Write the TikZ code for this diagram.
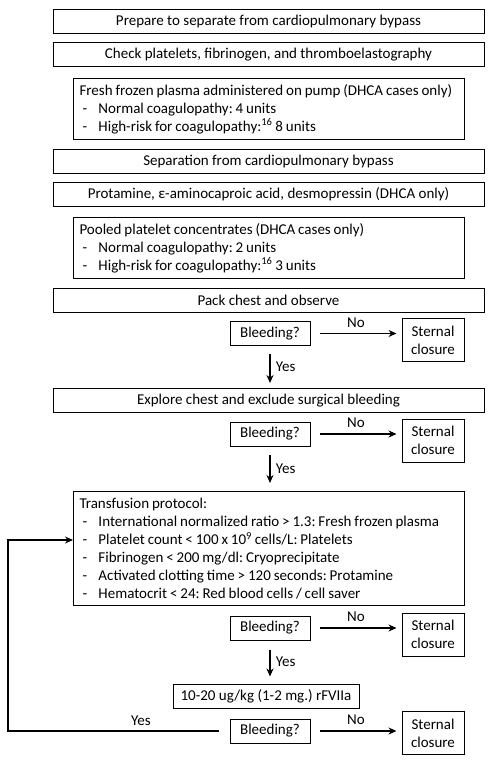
\documentclass[tikz,border=0pt]{standalone}
\usepackage{fontspec}
\setmainfont{Carlito}
\usetikzlibrary{arrows.meta}
\frenchspacing
\newcommand{\dashitem}[1]{\hspace*{3pt}\makebox[16pt][l]{-}#1}
\newcommand{\tightspace}{\spaceskip=2.9pt\relax}
\begin{document}
\begin{tikzpicture}[x=1pt, y=-1pt,
        font=\fontsize{15}{18}\selectfont,
        widebox/.style={draw, line width=1pt, minimum width=431pt, minimum height=24pt, inner sep=0pt},
        listbox/.style={draw, line width=1pt, anchor=north west, text width=379pt, inner xsep=6pt, inner ysep=0pt, align=left,
            execute at begin node=\tightspace},
        askbox/.style={draw, line width=1pt, minimum width=80pt, minimum height=24pt, inner sep=0pt},
        closebox/.style={draw, line width=1pt, minimum width=62pt, minimum height=43pt, inner sep=0pt, align=center},
        arr/.style={line width=1.2pt, -{Stealth[length=8pt, width=7pt]}}]
            \useasboundingbox (0,0) rectangle (494,764);
            \node[widebox] (prep) at (268.5, 21) {Prepare to separate from cardiopulmonary bypass};
            \node[widebox] (check) at (268.5, 54.5) {Check platelets, fibrinogen, and thromboelastography};
            \node[listbox, minimum height=61pt] (ffp) at (73, 78) {Fresh frozen plasma administered on pump (DHCA cases only)\\
                \dashitem{Normal coagulopathy: 4 units}\\
                \dashitem{High-risk for coagulopathy:\textsuperscript{16} 8 units}};
            \node[widebox] (sep) at (268.5, 161.5) {Separation from cardiopulmonary bypass};
            \node[widebox] (prot) at (268.5, 194.5) {Protamine, ε-aminocaproic acid, desmopressin (DHCA only)};
            \node[listbox, minimum height=61pt] (pool) at (73, 217) {Pooled platelet concentrates (DHCA cases only)\\
                \dashitem{Normal coagulopathy: 2 units}\\
                \dashitem{High-risk for coagulopathy:\textsuperscript{16} 3 units}};
            \node[widebox] (pack) at (268.5, 300.5) {Pack chest and observe};
            \node[askbox] (bl1) at (270, 333.5) {Bleeding?};
            \node[closebox] (sc1) at (433, 340) {Sternal\\closure};
            \node[widebox] (expl) at (268.5, 400.5) {Explore chest and exclude surgical bleeding};
            \node[askbox] (bl2) at (270, 434) {Bleeding?};
            \node[closebox] (sc2) at (433, 440.5) {Sternal\\closure};
            \node[listbox, minimum height=114pt] (trans) at (73, 491) {Transfusion protocol:\\
                \dashitem{International normalized ratio > 1.3: Fresh frozen plasma}\\
                \dashitem{Platelet count < 100 x 10\textsuperscript{9} cells/L: Platelets}\\
                \dashitem{Fibrinogen < 200 mg/dl: Cryoprecipitate}\\
                \dashitem{Activated clotting time > 120 seconds: Protamine}\\
                \dashitem{Hematocrit < 24: Red blood cells / cell saver}};
            \node[askbox] (bl3) at (270, 628) {Bleeding?};
            \node[closebox] (sc3) at (433, 634.5) {Sternal\\closure};
            \node[widebox, minimum width=186pt, inner xsep=6pt] (rf) at (266, 696) {10-20 ug/kg (1-2 mg.) rFVIIa};
            \node[askbox] (bl4) at (270, 731) {Bleeding?};
            \node[closebox] (sc4) at (433, 733) {Sternal\\closure};
            \coordinate (loop) at (8, 540);
            % no -> sternal closure
            \draw [arr, shorten <=9pt, shorten >=5pt] (bl1.east) -- node[above=2pt] {No} (bl1.east -| sc1.west);
            \draw [arr, shorten <=9pt, shorten >=5pt] (bl2.east) -- node[above=2pt] {No} (bl2.east -| sc2.west);
            \draw [arr, shorten <=9pt, shorten >=5pt] (bl3.east) -- node[above=2pt] {No} (bl3.east -| sc3.west);
            \draw [arr, shorten <=9pt, shorten >=5pt] (bl4.east) -- node[above=2pt] {No} (bl4.east -| sc4.west);
            % yes -> next step
            \draw [arr, shorten <=8pt, shorten >=5pt] (bl1.south) -- node[right=2pt] {Yes} (bl1.south |- expl.north);
            \draw [arr, shorten <=8pt, shorten >=8pt] (bl2.south) -- node[right=2pt] {Yes} (bl2.south |- trans.north);
            \draw [arr, shorten <=9pt, shorten >=7pt] (bl3.south) -- node[right=2pt] {Yes} (bl3.south |- rf.north);
            % back to the transfusion protocol
            \draw [arr, shorten <=11pt] (bl4.west) -- node[pos=0.4, above=1pt] {Yes} (bl4.west -| loop) -- (loop) -- (trans.west |- loop);
        \end{tikzpicture}
\end{document}
